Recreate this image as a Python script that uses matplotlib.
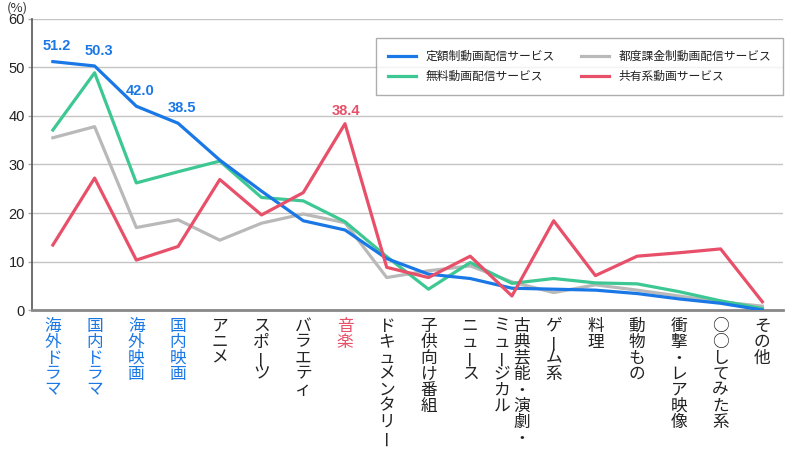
import matplotlib
matplotlib.use("Agg")
import matplotlib.pyplot as plt
from matplotlib.transforms import offset_copy

plt.rcParams['font.family'] = ['Noto Sans CJK JP', 'DejaVu Sans']

categories = ['海外ドラマ', '国内ドラマ', '海外映画', '国内映画', 'アニメ', 'スポーツ',
              'バラエティ', '音楽', 'ドキュメンタリー', '子供向け番組', 'ニュース',
              '古典芸能・演劇・ミュージカル', 'ゲーム系', '料理', '動物もの',
              '衝撃・レア映像', '○○してみた系', 'その他']

# 定額制 / 無料 / 都度課金制 / 共有系
flat_rate = [51.2, 50.3, 42.0, 38.5, 30.9, 24.5, 18.4, 16.5, 10.6, 7.4, 6.5, 4.5,
             4.3, 4.1, 3.4, 2.3, 1.4, 0.0]
free = [37.1, 48.9, 26.2, 28.5, 30.7, 23.2, 22.5, 18.2, 11.0, 4.3, 9.8, 5.5,
        6.5, 5.6, 5.4, 3.8, 1.9, 0.3]
per_view = [35.5, 37.8, 17.0, 18.6, 14.4, 17.9, 19.8, 18.0, 6.7, 8.1, 9.1, 5.8,
            3.6, 5.2, 4.1, 2.9, 1.7, 0.8]
shared = [13.4, 27.2, 10.3, 13.1, 26.9, 19.6, 24.2, 38.4, 8.8, 6.7, 11.1, 2.9,
          18.4, 7.1, 11.1, 11.8, 12.6, 1.7]

series_names = ['定額制動画配信サービス', '無料動画配信サービス',
                '都度課金制動画配信サービス', '共有系動画サービス']

BLUE = '#1a78e6'
GREEN = '#3dc893'
GRAY = '#b9b9b9'
RED = '#e8506a'

fig = plt.figure(figsize=(8, 4.5), dpi=100)
ax = fig.add_axes([0.04, 0.311, 0.939, 0.647])

x = list(range(len(categories)))
l_gray, = ax.plot(x, per_view, color=GRAY, lw=2.3, zorder=3, label=series_names[2])
l_green, = ax.plot(x, free, color=GREEN, lw=2.3, zorder=4, label=series_names[1])
l_blue, = ax.plot(x, flat_rate, color=BLUE, lw=2.3, zorder=5, label=series_names[0])
l_red, = ax.plot(x, shared, color=RED, lw=2.3, zorder=6, label=series_names[3])

ax.set_xlim(-0.5, len(categories) - 0.5)
ax.set_ylim(0, 60)
ax.set_yticks(range(0, 61, 10))
ax.set_xticks([])
ax.tick_params(axis='y', length=3, width=1, color='#aaaaaa', pad=2)
for t in ax.get_yticklabels():
    t.set_fontfamily('Liberation Sans')
    t.set_fontsize(10.5)
    t.set_color('#222222')
ax.grid(axis='y', color='#c4c4c4', lw=1)
ax.set_axisbelow(True)
for s in ['top', 'right']:
    ax.spines[s].set_visible(False)
ax.spines['left'].set_color('#555555')
ax.spines['left'].set_linewidth(1.2)
ax.spines['bottom'].set_color('#888888')
ax.spines['bottom'].set_linewidth(2)

fig.text(0.008, 0.982, '(%)', fontsize=9.5, color='#333333', va='center', ha='left')

# value labels
for i in range(4):
    ax.annotate('%.1f' % flat_rate[i], (i, flat_rate[i]), xytext=(3, 11),
                textcoords='offset points', ha='center', va='center',
                color=BLUE, fontsize=10.5, fontweight='bold', family='Liberation Sans')
ax.annotate('%.1f' % shared[7], (7, shared[7]), xytext=(1, 9),
            textcoords='offset points', ha='center', va='center',
            color=RED, fontsize=10.5, fontweight='bold', family='Liberation Sans')

# vertical category labels
label_colors = [BLUE] * 4 + ['#222222'] * 3 + [RED] + ['#222222'] * 10
base = ax.get_xaxis_transform()
for i, lab in enumerate(categories):
    cols = [lab[k:k + 8] for k in range(0, len(lab), 8)]
    n = len(cols)
    for c, col in enumerate(cols):
        dx = (n - 1) / 2 * 20 - c * 20
        for j, ch in enumerate(col):
            tr = offset_copy(base, fig=fig, x=dx, y=-(16 + 16.0 * j), units='dots')
            ax.text(i, 0, ch, transform=tr, ha='center', va='center',
                    rotation=90 if ch == 'ー' else 0, fontsize=12,
                    color=label_colors[i], clip_on=False)

leg = ax.legend(handles=[l_blue, l_green, l_gray, l_red], ncol=2,
                loc='upper right', bbox_to_anchor=(1.0, 0.933),
                fontsize=8.5, frameon=True, fancybox=False, borderpad=1.0,
                handlelength=2.4, handletextpad=0.8, columnspacing=2.2,
                labelspacing=0.55, borderaxespad=0)
leg.get_frame().set_edgecolor('#999999')
leg.get_frame().set_linewidth(1)
for t in leg.get_texts():
    t.set_color('#222222')

fig.savefig('out.png', dpi=100)
